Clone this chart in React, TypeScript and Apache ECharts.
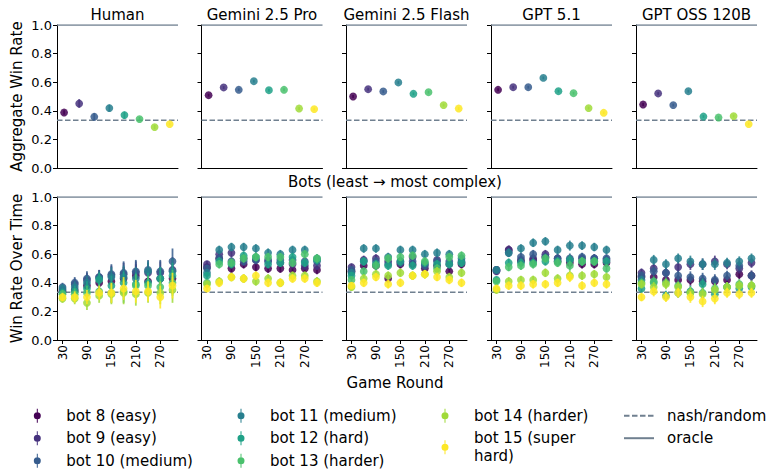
import React, { useEffect, useRef } from "react";
import * as echarts from "echarts";

const FONT = "DejaVu Sans";
const models = ["Human", "Gemini 2.5 Pro", "Gemini 2.5 Flash", "GPT 5.1", "GPT OSS 120B"];
const bots = [
  "bot 8 (easy)", "bot 9 (easy)", "bot 10 (medium)", "bot 11 (medium)",
  "bot 12 (hard)", "bot 13 (harder)", "bot 14 (harder)", "bot 15 (super hard)",
];
const botColors = ["#440154", "#46327e", "#365c8d", "#277f8e", "#1fa187", "#4ac16d", "#a0da39", "#fde725"];
const rounds = [30, 60, 90, 120, 150, 180, 210, 240, 270, 300];
const roundTicks = [30, 90, 150, 210, 270];
const yTicks = [0, 0.2, 0.4, 0.6, 0.8, 1.0];
const nashValue = 1 / 3;
const oracleValue = 1.0;

// Aggregate win rate per bot (8..15)
const aggHuman = [0.388, 0.451, 0.358, 0.419, 0.37, 0.342, 0.286, 0.307];
const aggGeminiPro = [0.509, 0.563, 0.547, 0.607, 0.544, 0.547, 0.416, 0.412];
const aggGeminiFlash = [0.5, 0.551, 0.535, 0.598, 0.519, 0.53, 0.44, 0.416];
const aggGpt51 = [0.547, 0.565, 0.565, 0.63, 0.537, 0.523, 0.419, 0.386];
const aggGptOss = [0.444, 0.521, 0.44, 0.537, 0.36, 0.353, 0.363, 0.307];
const aggErrHuman = [0.015, 0.03, 0.025, 0.025, 0.025, 0.015, 0.015, 0.01];
const aggErrLlm = [0.01, 0.01, 0.01, 0.01, 0.01, 0.01, 0.01, 0.01];

// Win rate over time: rows = bots 8..15, cols = rounds
const timeHuman = [
  [0.34, 0.35, 0.38, 0.40, 0.41, 0.43, 0.45, 0.41, 0.43, 0.43],
  [0.35, 0.39, 0.42, 0.44, 0.45, 0.46, 0.47, 0.47, 0.47, 0.49],
  [0.37, 0.40, 0.43, 0.44, 0.46, 0.47, 0.48, 0.49, 0.48, 0.55],
  [0.36, 0.37, 0.40, 0.43, 0.44, 0.44, 0.43, 0.48, 0.43, 0.48],
  [0.33, 0.34, 0.36, 0.42, 0.38, 0.40, 0.39, 0.40, 0.43, 0.45],
  [0.32, 0.32, 0.33, 0.34, 0.33, 0.34, 0.38, 0.38, 0.37, 0.40],
  [0.29, 0.29, 0.26, 0.31, 0.32, 0.33, 0.32, 0.33, 0.33, 0.35],
  [0.30, 0.30, 0.30, 0.33, 0.33, 0.36, 0.34, 0.34, 0.30, 0.38],
];
const timeGeminiPro = [
  [0.51, 0.57, 0.50, 0.53, 0.51, 0.50, 0.50, 0.49, 0.50, 0.49],
  [0.53, 0.60, 0.61, 0.57, 0.56, 0.55, 0.54, 0.53, 0.52, 0.52],
  [0.50, 0.57, 0.55, 0.55, 0.56, 0.56, 0.56, 0.56, 0.55, 0.55],
  [0.47, 0.63, 0.65, 0.65, 0.64, 0.61, 0.60, 0.63, 0.63, 0.57],
  [0.45, 0.55, 0.53, 0.59, 0.58, 0.53, 0.54, 0.58, 0.54, 0.56],
  [0.40, 0.53, 0.54, 0.57, 0.58, 0.58, 0.58, 0.54, 0.60, 0.57],
  [0.39, 0.41, 0.44, 0.43, 0.41, 0.43, 0.40, 0.45, 0.45, 0.41],
  [0.36, 0.40, 0.44, 0.43, 0.45, 0.40, 0.40, 0.43, 0.43, 0.40],
];
const timeGeminiFlash = [
  [0.48, 0.52, 0.52, 0.43, 0.53, 0.53, 0.50, 0.52, 0.48, 0.53],
  [0.51, 0.56, 0.57, 0.55, 0.55, 0.58, 0.53, 0.56, 0.53, 0.54],
  [0.49, 0.55, 0.55, 0.53, 0.54, 0.55, 0.52, 0.55, 0.55, 0.55],
  [0.47, 0.64, 0.64, 0.58, 0.63, 0.63, 0.60, 0.61, 0.60, 0.57],
  [0.45, 0.55, 0.53, 0.52, 0.55, 0.52, 0.54, 0.53, 0.53, 0.54],
  [0.42, 0.48, 0.52, 0.57, 0.58, 0.59, 0.55, 0.50, 0.58, 0.59],
  [0.37, 0.43, 0.46, 0.45, 0.47, 0.45, 0.46, 0.48, 0.44, 0.47],
  [0.38, 0.40, 0.44, 0.39, 0.40, 0.45, 0.46, 0.44, 0.42, 0.40],
];
const timeGpt51 = [
  [0.49, 0.63, 0.55, 0.56, 0.58, 0.55, 0.54, 0.53, 0.53, 0.54],
  [0.48, 0.63, 0.56, 0.57, 0.60, 0.57, 0.56, 0.57, 0.57, 0.56],
  [0.49, 0.61, 0.58, 0.60, 0.58, 0.57, 0.57, 0.58, 0.57, 0.57],
  [0.49, 0.61, 0.64, 0.68, 0.69, 0.63, 0.66, 0.66, 0.65, 0.63],
  [0.42, 0.54, 0.54, 0.54, 0.55, 0.55, 0.56, 0.55, 0.55, 0.55],
  [0.41, 0.51, 0.52, 0.53, 0.57, 0.54, 0.52, 0.55, 0.55, 0.50],
  [0.35, 0.41, 0.42, 0.42, 0.47, 0.43, 0.45, 0.45, 0.46, 0.44],
  [0.36, 0.38, 0.38, 0.39, 0.39, 0.40, 0.44, 0.38, 0.40, 0.39],
];
const timeGptOss = [
  [0.44, 0.44, 0.42, 0.42, 0.42, 0.41, 0.41, 0.42, 0.46, 0.45],
  [0.47, 0.50, 0.47, 0.51, 0.53, 0.53, 0.55, 0.53, 0.50, 0.54],
  [0.45, 0.48, 0.47, 0.45, 0.44, 0.43, 0.42, 0.45, 0.52, 0.45],
  [0.42, 0.56, 0.53, 0.57, 0.55, 0.53, 0.53, 0.54, 0.55, 0.57],
  [0.36, 0.40, 0.31, 0.33, 0.34, 0.39, 0.32, 0.37, 0.36, 0.37],
  [0.40, 0.41, 0.40, 0.38, 0.33, 0.33, 0.36, 0.37, 0.39, 0.38],
  [0.39, 0.37, 0.39, 0.37, 0.33, 0.32, 0.35, 0.37, 0.38, 0.38],
  [0.30, 0.34, 0.30, 0.33, 0.30, 0.27, 0.29, 0.33, 0.32, 0.33],
];
const timeErrHuman = [0.03, 0.04, 0.05, 0.05, 0.07, 0.08, 0.08, 0.07, 0.08, 0.09];
const timeErrGeminiPro = [0.025, 0.03, 0.03, 0.03, 0.03, 0.03, 0.03, 0.03, 0.03, 0.03];
const timeErrGeminiFlash = [0.025, 0.03, 0.03, 0.03, 0.03, 0.03, 0.03, 0.03, 0.03, 0.03];
const timeErrGpt51 = [0.025, 0.03, 0.03, 0.03, 0.03, 0.03, 0.035, 0.03, 0.03, 0.03];
const timeErrGptOss = [0.03, 0.035, 0.035, 0.035, 0.04, 0.04, 0.04, 0.035, 0.035, 0.035];

const aggAll = [aggHuman, aggGeminiPro, aggGeminiFlash, aggGpt51, aggGptOss];
const aggErrAll = [aggErrHuman, aggErrLlm, aggErrLlm, aggErrLlm, aggErrLlm];
const timeAll = [timeHuman, timeGeminiPro, timeGeminiFlash, timeGpt51, timeGptOss];
const timeErrAll = [timeErrHuman, timeErrGeminiPro, timeErrGeminiFlash, timeErrGpt51, timeErrGptOss];

const REF = "#708090";
const panelLeft = [57, 201.5, 346, 491, 636];
const panelW = 121;
const topRowTop = 25;
const botRowTop = 197;
const panelH = 143;
const aggXMin = -0.47;
const aggXMax = 7.55;
const timeXMin = 16.5;
const timeXMax = 313.5;

const botIcon = "path://M3,0 H4 V14 H3 Z M0,7 A3.5,3.5 0 1 1 7,7 A3.5,3.5 0 1 1 0,7 Z";

function errRender(color: string) {
  return (params: any, api: any) => {
    const x = api.value(0);
    const y = api.value(1);
    const lo = api.value(2);
    const hi = api.value(3);
    const p = api.coord([x, y]);
    const pl = api.coord([x, lo]);
    const ph = api.coord([x, hi]);
    return {
      type: "group",
      children: [
        { type: "line", shape: { x1: p[0], y1: pl[1], x2: p[0], y2: ph[1] }, style: { stroke: color, lineWidth: 1.8, opacity: 0.85 } },
        { type: "circle", shape: { cx: p[0], cy: p[1], r: 3.9 }, style: { fill: color, opacity: 0.85 } },
      ],
    };
  };
}

export default function App() {
  const ref = useRef<HTMLDivElement>(null);
  useEffect(() => {
    document.body.style.margin = "0";
    const chart = echarts.init(ref.current!, null, { renderer: "svg" });
    const grid: any[] = [];
    const xAxis: any[] = [];
    const yAxis: any[] = [];
    const series: any[] = [];
    const axisLineStyle = { color: "#000", width: 1 };
    for (let row = 0; row < 2; row++) {
      for (let c = 0; c < 5; c++) {
        const gi = row * 5 + c;
        grid.push({ left: panelLeft[c], top: row === 0 ? topRowTop : botRowTop, width: panelW, height: panelH });
        if (row === 0) {
          xAxis.push({
            type: "value", gridIndex: gi, min: aggXMin, max: aggXMax,
            axisLine: { show: true, onZero: false, lineStyle: axisLineStyle },
            axisTick: { show: false }, axisLabel: { show: false }, splitLine: { show: false },
          });
        } else {
          xAxis.push({
            type: "value", gridIndex: gi, min: timeXMin, max: timeXMax,
            axisLine: { show: true, onZero: false, lineStyle: axisLineStyle },
            axisTick: { show: true, customValues: roundTicks, length: 4, lineStyle: axisLineStyle },
            axisLabel: { show: true, customValues: roundTicks, rotate: 90, fontSize: 12, color: "#000", fontFamily: FONT, margin: 5 },
            splitLine: { show: false },
          });
        }
        yAxis.push({
          type: "value", gridIndex: gi, min: 0, max: 1, interval: 0.2,
          axisLine: { show: true, onZero: false, lineStyle: axisLineStyle },
          axisTick: { show: true, length: 4, lineStyle: axisLineStyle, customValues: yTicks },
          axisLabel: { show: c === 0, customValues: yTicks, formatter: (v: number) => v.toFixed(1), fontSize: 13, color: "#000", fontFamily: FONT, margin: 5 },
          splitLine: { show: false },
          name: c === 0 ? (row === 0 ? "Aggregate Win Rate" : "Win Rate Over Time") : "",
          nameLocation: "middle", nameGap: 33,
          nameTextStyle: { fontSize: 15, color: "#000", fontFamily: FONT },
        });
        const xmin = row === 0 ? aggXMin : timeXMin;
        const xmax = row === 0 ? aggXMax : timeXMax;
        series.push({
          type: "line", name: "nash/random", xAxisIndex: gi, yAxisIndex: gi, silent: true,
          data: [[xmin, nashValue], [xmax, nashValue]], symbol: "none", z: 1,
          lineStyle: { color: REF, width: 1.5, type: [5.5, 2.5] }, itemStyle: { color: REF },
        });
        series.push({
          type: "line", name: "oracle", xAxisIndex: gi, yAxisIndex: gi, silent: true,
          data: [[xmin, oracleValue], [xmax, oracleValue]], symbol: "none", z: 1,
          lineStyle: { color: REF, width: 1.5, type: "solid" }, itemStyle: { color: REF },
        });
        for (let b = 0; b < 8; b++) {
          let data: number[][];
          if (row === 0) {
            const v = aggAll[c][b];
            const e = aggErrAll[c][b];
            data = [[b, v, v - e, v + e]];
          } else {
            data = rounds.map((r, k) => {
              const v = timeAll[c][b][k];
              const e = timeErrAll[c][k];
              return [r, v, v - e, v + e];
            });
          }
          series.push({
            type: "custom", name: bots[b], xAxisIndex: gi, yAxisIndex: gi, z: 2 + b,
            itemStyle: { color: botColors[b] },
            encode: { x: 0, y: 1 },
            renderItem: errRender(botColors[b]),
            data,
          });
        }
      }
    }
    const legendBase = {
      orient: "vertical", selectedMode: false, itemHeight: 14, itemGap: 4.5,
      padding: 0, height: 120, width: 200,
      textStyle: { fontSize: 15, color: "#000", fontFamily: FONT, lineHeight: 18 },
      formatter: (n: string) => (n === "bot 15 (super hard)" ? "bot 15 (super\nhard)" : n),
    };
    const legendTop = 406.7;
    const legend = [
      { ...legendBase, left: 33.8, top: legendTop, itemWidth: 48, data: bots.slice(0, 3).map((n) => ({ name: n, icon: botIcon })) },
      { ...legendBase, left: 237.5, top: legendTop, itemWidth: 48, data: bots.slice(3, 6).map((n) => ({ name: n, icon: botIcon })) },
      { ...legendBase, left: 441.5, top: legendTop, itemWidth: 48, data: bots.slice(6, 8).map((n) => ({ name: n, icon: botIcon })) },
      {
        ...legendBase, left: 623, top: legendTop, itemWidth: 30, width: 140,
        itemStyle: { opacity: 0 },
        textStyle: { ...legendBase.textStyle, padding: [0, 0, 0, 8] },
        data: ["nash/random", "oracle"],
      },
    ];
    const graphic: any[] = models.map((m, c) => ({
      type: "text", x: panelLeft[c] + panelW / 2, y: 15,
      style: { text: m, font: `15px ${FONT}`, fill: "#000", align: "center", verticalAlign: "middle" },
    }));
    graphic.push({
      type: "text", x: 395, y: 182,
      style: { text: "Bots (least → most complex)", font: `15px ${FONT}`, fill: "#000", align: "center", verticalAlign: "middle" },
    });
    graphic.push({
      type: "text", x: 395, y: 383,
      style: { text: "Game Round", font: `15px ${FONT}`, fill: "#000", align: "center", verticalAlign: "middle" },
    });
    chart.setOption({
      animation: false,
      backgroundColor: "#fff",
      textStyle: { fontFamily: FONT },
      grid, xAxis, yAxis, series, legend, graphic,
    });
    return () => chart.dispose();
  }, []);
  return <div ref={ref} style={{ width: 773, height: 472 }} />;
}
